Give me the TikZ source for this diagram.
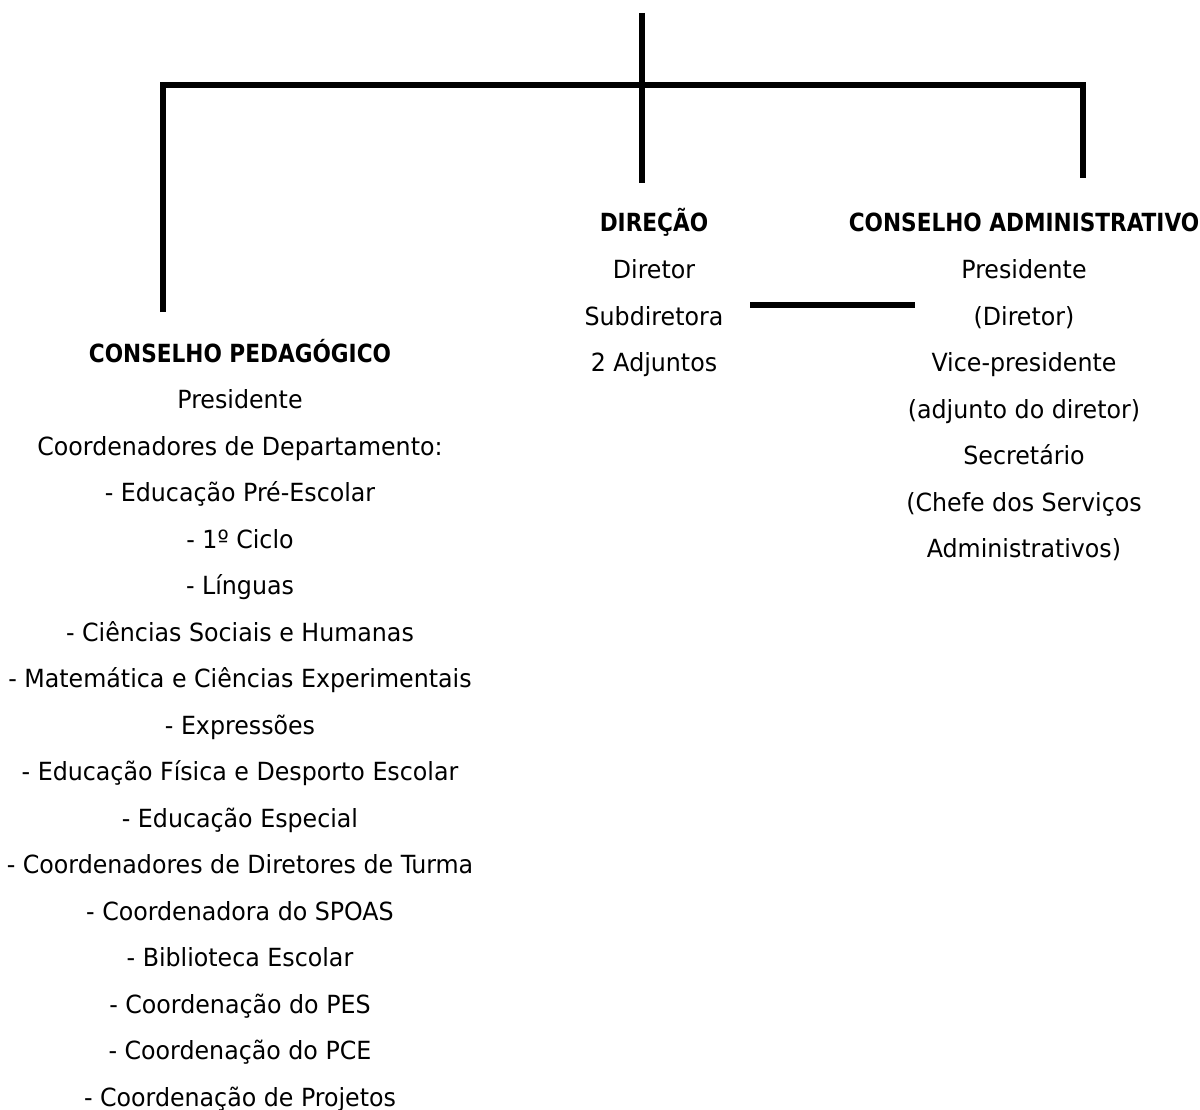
\documentclass[tikz,border=0pt]{standalone}
\usepackage{fontspec}
\setmainfont{DejaVu Sans Condensed}[FakeStretch=1.055]
\newfontfamily\hdfont{DejaVu Sans Condensed}[FakeStretch=0.962]
\begin{document}
\begin{tikzpicture}[x=1pt,y=-1pt,
  txt/.style={anchor=base,inner sep=0pt,font=\fontsize{25}{29}\selectfont},
  hd/.style={txt,font=\fontsize{25}{29}\selectfont\hdfont\bfseries},
  bar/.style={line width=6pt}]
\useasboundingbox (0,0) rectangle (1200,1110);
% connectors
\coordinate (top) at (642,13);
\coordinate (hj) at (642,85);
\coordinate (hl) at (163,85);
\coordinate (hr) at (1083,85);
\coordinate (ld) at (163,312);
\coordinate (md) at (642,183);
\coordinate (rd) at (1083,178);
\coordinate (sl) at (750,305);
\coordinate (sr) at (915,305);
\draw[bar] (top) -- (md);
\draw[bar] (ld) -- (hl) -- ([xshift=3pt]hr);
\draw[bar] (hr) -- (rd);
\draw[bar] (sl) -- (sr);
% Conselho Pedagogico
\node[hd] (p0) at (240,362) {CONSELHO PEDAGÓGICO};
\foreach \t [count=\i] in {{Presidente},{Coordenadores de Departamento:},{- Educação Pré-Escolar},{- 1º Ciclo},{- Línguas},{- Ciências Sociais e Humanas},{- Matemática e Ciências Experimentais},{- Expressões},{- Educação Física e Desporto Escolar},{- Educação Especial},{- Coordenadores de Diretores de Turma},{- Coordenadora do SPOAS},{- Biblioteca Escolar},{- Coordenação do PES},{- Coordenação do PCE},{- Coordenação de Projetos}}
  \node[txt] (p\i) at (240,362+\i*46.5) {\t};
% Direcao
\node[hd] (d0) at (654,232) {DIREÇÃO};
\foreach \t [count=\i] in {{Diretor},{Subdiretora},{2 Adjuntos}}
  \node[txt] (d\i) at (654,232+\i*46.5) {\t};
% Conselho Administrativo
\node[hd] (c0) at (1024,232) {CONSELHO ADMINISTRATIVO};
\foreach \t [count=\i] in {{Presidente},{(Diretor)},{Vice-presidente},{(adjunto do diretor)},{Secretário},{(Chefe dos Serviços},{Administrativos)}}
  \node[txt] (c\i) at (1024,232+\i*46.5) {\t};
\end{tikzpicture}
\end{document}
